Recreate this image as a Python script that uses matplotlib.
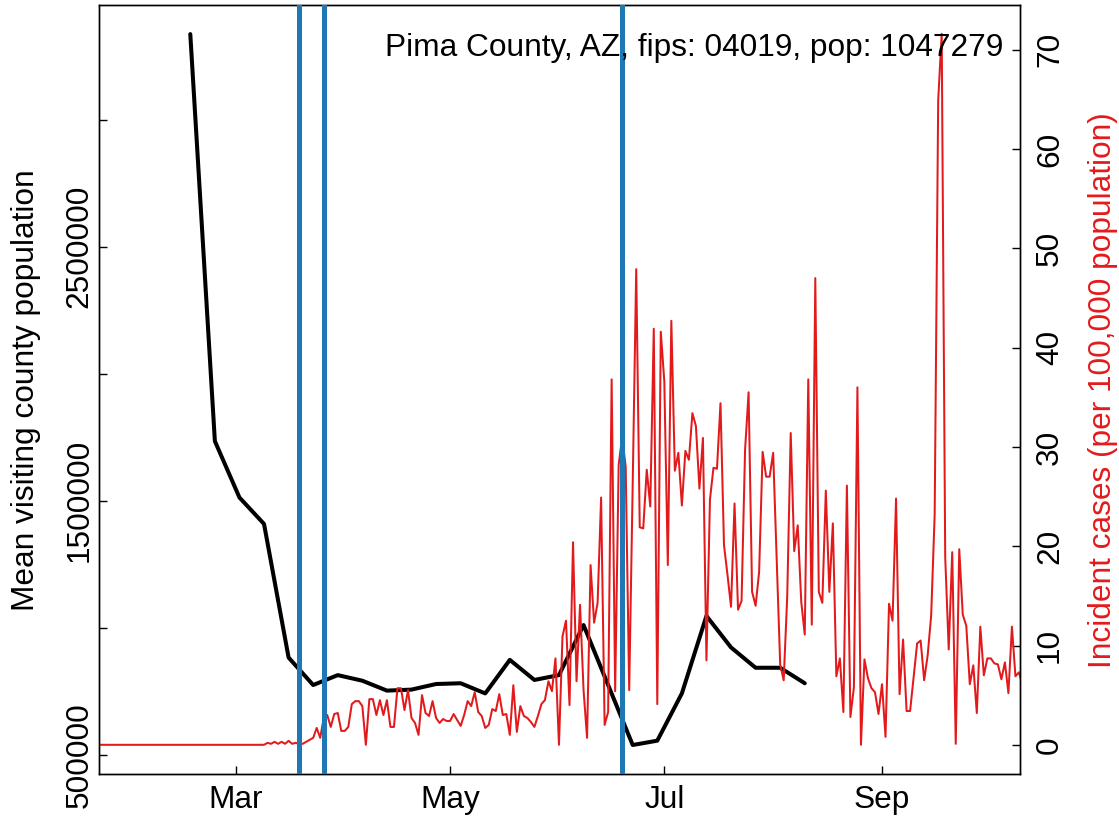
import numpy as np
import matplotlib
matplotlib.use('Agg')
import matplotlib.pyplot as plt
import matplotlib.dates as mdates

plt.rcParams['font.family'] = ['Liberation Sans', 'DejaVu Sans']

# Daily incident cases per 100,000, from 2020-01-22
case_start = '2020-01-22'
cases = [
    0, 0, 0, 0, 0, 0, 0, 0, 0, 0, 0, 0, 0, 0, 0, 0, 0, 0, 0, 0, 0, 0, 0, 0,
    0, 0, 0, 0, 0, 0, 0, 0, 0, 0, 0, 0, 0, 0, 0, 0, 0, 0, 0, 0, 0, 0, 0, 0,
    0.2, 0.1, 0.3, 0.1, 0.3, 0.1, 0.4, 0.1, 0.2, 0.1,
    0.1, 0.3, 0.5, 0.7, 1.7, 0.7, 2.7, 3.0, 1.8, 3.1, 3.2, 1.4, 1.4, 1.8,
    4.1, 4.4, 4.4, 3.9, 0.0, 4.6, 4.6, 3.0, 4.5, 3.0, 4.5, 1.8, 1.8, 5.7,
    5.7, 3.5, 5.5, 2.7, 2.2, 1.0,
    5.0, 3.2, 2.9, 4.4, 2.7, 2.2, 2.6, 2.4, 2.4, 3.1, 2.5, 1.9, 3.0, 4.4,
    3.9, 5.3, 3.3, 2.9, 1.7, 2.0, 3.6, 3.4, 5.1, 3.0, 3.1, 1.0, 6.0, 1.3,
    3.9, 2.9, 2.7, 2.3, 1.8, 2.9, 4.1, 4.5, 6.4, 5.4, 8.7, 0.0,
    10.9, 12.5, 4.0, 20.4, 6.4, 14.1, 5.5, 0.7, 18.1, 12.3, 14.3, 24.9, 2.0,
    3.3, 36.8, 5.4, 28.2, 31.0, 28.0, 5.5, 26.3, 47.9, 21.9, 21.8, 27.7, 24.0,
    41.9, 4.1, 41.6, 36.6, 18.1, 42.7, 27.6, 29.4, 24.1, 29.6, 28.7, 33.4,
    32.1, 25.8, 30.9, 8.5, 24.7, 27.9, 27.8, 34.4, 20.1, 17.1, 13.9, 24.3, 13.6,
    14.5, 29.7, 35.5, 15.4, 14.0, 17.4, 29.5, 27.0, 27.0, 29.4, 18.8, 8.1, 6.5,
    14.9, 31.4, 19.5, 22.1, 14.4, 11.1, 36.8, 12.1, 47.0, 15.4, 14.3, 25.6, 15.4,
    22.3, 6.9, 8.7, 3.3, 26.1, 2.8, 5.8, 36.0, 0.0, 8.6, 6.7, 5.7, 5.3, 3.1,
    6.1, 0.8, 14.2, 12.5, 24.8, 5.1, 10.6, 3.4, 3.4, 6.8, 10.2, 10.5, 6.5, 9.0,
    13.0, 23.2, 64.9, 71.6, 18.9, 9.6, 19.4, 0.1, 19.7, 13.1, 12.0, 6.1, 8.0,
    3.2, 11.9, 7.0, 8.7, 8.7, 8.2, 8.1, 6.6, 8.3, 5.2, 11.9, 6.9, 7.3, 6.0,
]

# Weekly mean visiting county population, from 2020-02-17
visit_start = '2020-02-17'
visitors = [3337000, 1735000, 1513000, 1409000, 883000, 775000, 814000,
            792000, 753000, 757000, 779000, 782000, 742000, 874000, 795000,
            814000, 1011000, 775000, 539000, 556000, 742000, 1047000, 923000,
            843000, 843000, 782000]

# Policy dates (vertical lines)
events = ['2020-03-19', '2020-03-26', '2020-06-19']

month_ticks = ['2020-03-01', '2020-05-01', '2020-07-01', '2020-09-01']
month_labels = ['Mar', 'May', 'Jul', 'Sep']
left_ticks = [500000, 1000000, 1500000, 2000000, 2500000, 3000000]
left_labels = ['500000', '', '1500000', '', '2500000', '']
right_ticks = [0, 10, 20, 30, 40, 50, 60, 70]

title = 'Pima County, AZ, fips: 04019, pop: 1047279'

red = '#e31a1c'
blue = '#1f78b4'
fs = 22.8

case_dates = np.datetime64(case_start) + np.arange(len(cases))
visit_dates = np.datetime64(visit_start) + 7 * np.arange(len(visitors))

fig = plt.figure(figsize=(11.19, 8.22), dpi=100)
ax = fig.add_axes([0.08847, 0.0590, 0.82306, 0.93431])

ax.plot(visit_dates, visitors, color='black', lw=2.9, solid_capstyle='round', zorder=2)
ax.set_ylim(426800, 3449500)
ax.set_yticks(left_ticks)
ax.set_yticklabels(left_labels)
ax.tick_params(axis='y', direction='in', length=5.8, width=1, pad=3.1, labelsize=fs)
for t in ax.get_yticklabels():
    t.set_rotation(90)
    t.set_va('center')

ax2 = ax.twinx()
ax2.plot(case_dates, cases, color=red, lw=1.45, zorder=2)
for d in events:
    ax2.axvline(np.datetime64(d), color=blue, lw=3.6, zorder=5)
ax2.set_ylim(-2.89, 74.45)
ax2.set_yticks(right_ticks)
ax2.tick_params(axis='y', direction='in', length=5.8, width=1, pad=10.8, labelsize=fs)
for t in ax2.get_yticklabels():
    t.set_rotation(90)
    t.set_va('center')

x0 = mdates.date2num(np.datetime64(case_start))
ax2.set_xlim(x0, x0 + 262.3)
ax.set_xticks([mdates.date2num(np.datetime64(m)) for m in month_ticks])
ax.set_xticklabels(month_labels)
ax.tick_params(axis='x', direction='in', length=5.8, width=1, pad=8.6, labelsize=fs)

for a in (ax, ax2):
    for s in a.spines.values():
        s.set_linewidth(1.0)

ax2.text(0.9816, 0.9448, title, transform=ax2.transAxes, ha='right', va='center',
         fontsize=fs, zorder=6)

fig.text(26.5 / 1119, (822 - 390) / 822, 'Mean visiting county population',
         rotation=90, ha='center', va='center', fontsize=fs)
fig.text(1102.5 / 1119, (822 - 390) / 822, 'Incident cases (per 100,000 population)',
         rotation=90, ha='center', va='center', fontsize=fs, color=red)

fig.savefig('out.png', dpi=100)
